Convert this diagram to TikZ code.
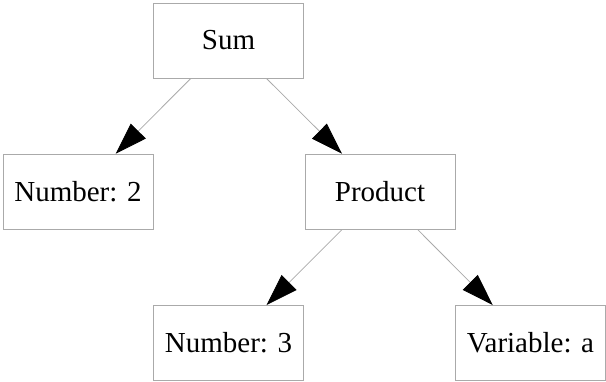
\documentclass[tikz,border=0pt]{standalone}
\usepackage{fontspec}
\setmainfont{Liberation Serif}
\usetikzlibrary{arrows.meta}
\definecolor{edgegray}{RGB}{170,170,170}
\tikzset{
  box/.style={draw=edgegray, line width=0.9pt, minimum width=150pt, minimum height=75pt, inner sep=0pt, font=\fontsize{29}{34}\selectfont},
  conn/.style={draw=edgegray, line width=0.8pt, -{Triangle[length=32pt,width=21pt,black]}}
}
\begin{document}
\begin{tikzpicture}[x=1pt,y=1pt]
\useasboundingbox (0,0) rectangle (606,381);
\node[box] (sum) at (228.5,340.5) {Sum};
\node[box] (n2) at (78,189.3) {Number: 2};
\node[box] (prod) at (380,189.3) {Product};
\node[box] (n3) at (228.5,38) {Number: 3};
\node[box] (var) at (530.5,38) {Variable: a};
\draw[conn] (sum) -- (n2);
\draw[conn] (sum) -- (prod);
\draw[conn] (prod) -- (n3);
\draw[conn] (prod) -- (var);
\end{tikzpicture}
\end{document}
